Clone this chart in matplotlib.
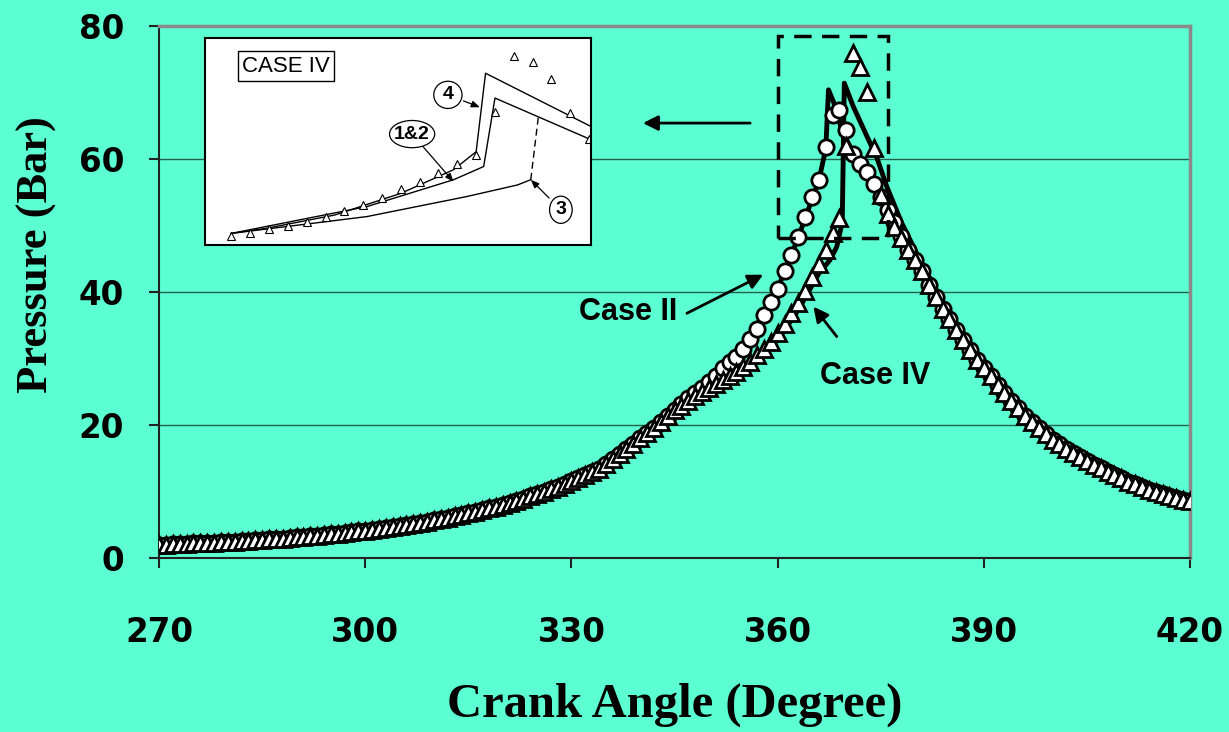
import matplotlib
matplotlib.use("Agg")
import matplotlib.pyplot as plt
from matplotlib.patches import Rectangle, Ellipse

BG = "#5cffd2"

# crank angle of the sampled points (one per degree)
crank = list(range(270, 421))

# shared compression part, 270..345 deg
compression = [2.0, 2.03, 2.07, 2.11, 2.15, 2.19, 2.23, 2.28, 2.33, 2.38,
               2.43, 2.48, 2.54, 2.60, 2.66, 2.72, 2.79, 2.86, 2.93, 3.01,
               3.09, 3.17, 3.26, 3.35, 3.45, 3.55, 3.65, 3.76, 3.87, 3.99,
               4.11, 4.24, 4.37, 4.51, 4.65, 4.80, 4.96, 5.12, 5.29, 5.47,
               5.66, 5.85, 6.05, 6.26, 6.48, 6.71, 6.95, 7.20, 7.46, 7.73,
               8.00, 8.30, 8.60, 8.92, 9.25, 9.60, 9.96, 10.33, 10.72, 11.12,
               11.54, 11.98, 12.44, 12.92, 13.42, 14.2, 14.9, 15.6, 16.4, 17.2,
               18.0, 18.8, 19.6, 20.4, 21.3, 22.2]

# shared expansion part, 379..420 deg
expansion = [46.3, 44.8, 43.1, 41.1, 39.3, 37.5, 36.0, 34.3, 32.8, 31.3,
             29.8, 28.5, 27.3, 26.0, 24.8, 23.6, 22.5, 21.4, 20.4, 19.5,
             18.6, 17.8, 17.1, 16.4, 15.8, 15.2, 14.6, 14.0, 13.5, 13.0,
             12.5, 12.0, 11.5, 11.1, 10.7, 10.3, 10.0, 9.6, 9.3, 9.0,
             8.7, 8.5]

# Case II measured, 346..378 deg
case2_mid = [23.1, 24.0, 24.8, 25.6, 26.5, 27.4, 28.5, 29.4, 30.3, 31.5,
             33.0, 34.5, 36.5, 38.5, 40.5, 43.1, 45.6, 48.2, 51.3, 54.3,
             56.8, 61.8, 66.6, 67.4, 64.4, 60.7, 59.3, 58.1, 56.3, 54.3,
             52.4, 50.5, 48.4]

# Case IV measured, 346..378 deg
case4_mid = [22.9, 23.6, 24.3, 25.0, 25.6, 26.2, 26.8, 27.4, 28.0, 28.7,
             29.5, 30.5, 31.5, 32.5, 33.8, 35.2, 36.8, 38.4, 40.2, 42.2,
             44.2, 46.3, 48.9, 51.1, 61.9, 75.9, 73.9, 70.1, 61.6, 54.6,
             51.8, 49.8, 48.1]

case2_p = compression + case2_mid + expansion
case4_p = compression + case4_mid + expansion

# simulated pressure traces
sim2_angle = [270, 280, 290, 300, 310, 320, 330, 340, 345, 350, 355, 360,
              363, 366, 367.0, 367.4, 368.4, 369.3, 371, 372, 374, 376,
              378, 380, 385, 390, 395, 400, 405, 410, 415, 420]
sim2_p = [2.0, 2.43, 3.09, 4.11, 5.66, 8.0, 11.54, 18.0, 22.2, 26.5, 31.5,
          40.5, 48.2, 56.8, 61.5, 70.4, 67.9, 64.4, 60.9, 59.2, 56.0, 52.0,
          48.3, 44.9, 36.2, 28.6, 22.6, 17.9, 14.7, 12.1, 10.0, 8.5]

sim4_angle = [270, 280, 290, 300, 310, 320, 330, 340, 345, 350, 355, 360,
              363, 366, 367.6, 368.6, 369.4, 369.7, 371, 373, 374.4, 375.9,
              378, 380.7, 385, 390, 395, 400, 405, 410, 415, 420]
sim4_p = [2.0, 2.43, 3.09, 4.11, 5.66, 8.0, 11.54, 18.0, 22.2, 25.3, 28.2,
          32.8, 37.3, 42.8, 44.8, 46.8, 50.5, 71.4, 67.9, 63.4, 60.3, 55.8,
          50.5, 44.8, 36.6, 28.9, 22.8, 18.0, 14.7, 12.1, 10.0, 8.5]

# detail view: case IV measurements and model variants
detail_angle = list(range(356, 376))
detail_p = [30.9, 31.5, 32.5, 33.4, 34.3, 35.5, 37.2, 38.6, 40.4, 42.5,
            44.4, 46.7, 48.9, 51.1, 61.9, 75.9, 74.3, 70.0, 61.5, 55.0]
model4_angle = [356.0, 357.9, 361.5, 365.0, 367.8, 369.0, 369.5, 375.1]
model4_p = [31.5, 32.8, 36.1, 41.5, 47.4, 51.9, 71.5, 58.2]
model12_angle = [356.0, 363.2, 367.8, 369.4, 370.0, 375.1]
model12_p = [31.5, 38.2, 44.9, 48.2, 65.3, 54.9]
model3_angle = [356.0, 363.2, 368.5, 371.2, 371.9]
model3_p = [31.5, 35.7, 40.7, 43.6, 44.9]
model3_jump_angle = [371.9, 372.3]
model3_jump_p = [44.9, 60.5]

x_ticks = [270, 300, 330, 360, 390, 420]
y_ticks = [0, 20, 40, 60, 80]

fig = plt.figure(figsize=(12.29, 7.32), dpi=100, facecolor=BG)
ax = fig.add_axes([0.1294, 0.2377, 0.8389, 0.7268], facecolor=BG)

ax.plot(sim2_angle, sim2_p, color="black", lw=3.5, zorder=3)
ax.plot(sim4_angle, sim4_p, color="black", lw=3.5, zorder=3)
ax.plot(crank, case2_p, ls="none", marker="o", ms=11, mfc="white",
        mec="black", mew=2, zorder=4)
ax.plot(crank, case4_p, ls="none", marker="^", ms=11, mfc="white",
        mec="black", mew=2, zorder=5)

ax.set_xlim(270, 420)
ax.set_ylim(0, 80)
ax.set_xticks(x_ticks)
ax.set_yticks(y_ticks)
ax.yaxis.grid(True, color="#24604f", lw=1)
ax.set_axisbelow(True)
ax.tick_params(direction="out", length=7, width=1.5, color="#222222")
ax.tick_params(axis="x", pad=35)
ax.tick_params(axis="y", pad=18)
for lab in ax.get_xticklabels() + ax.get_yticklabels():
    lab.set_fontfamily("DejaVu Sans")
    lab.set_fontweight("bold")
    lab.set_fontsize(23.5)
for side in ("left", "bottom"):
    ax.spines[side].set_color("#222222")
    ax.spines[side].set_linewidth(1.5)
for side in ("top", "right"):
    ax.spines[side].set_color("#8a8a8a")
    ax.spines[side].set_linewidth(2.5)

fig.text(675 / 1229, 1 - 705 / 732, "Crank Angle (Degree)", ha="center",
         va="center", family="Liberation Serif", weight="bold", fontsize=35)
fig.text(37 / 1229, 1 - 255 / 732, "Pressure (Bar)", ha="center",
         va="center", rotation=90, family="Liberation Serif", weight="bold",
         fontsize=32)

# zoom box around the peak and pointer to the detail view
ax.add_patch(Rectangle((360.1, 48.1), 16.0, 30.4, fill=False, ec="black",
                       lw=2.5, ls=(0, (5, 3)), zorder=6))
arrow = dict(arrowstyle="-|>,head_length=0.9,head_width=0.45", color="black",
             lw=2, shrinkA=0, shrinkB=0)
ax.annotate("", xy=(340.4, 65.4), xytext=(356.0, 65.4), arrowprops=arrow)

ax.annotate("", xy=(357.9, 42.6), xytext=(346.8, 36.8), arrowprops=arrow,
            zorder=7)
ax.text(338.2, 37.0, "Case II", ha="center", va="center",
        family="Liberation Sans", weight="bold", fontsize=22, zorder=7)
ax.annotate("", xy=(365.2, 37.8), xytext=(368.6, 33.3), arrowprops=arrow,
            zorder=7)
ax.text(374.2, 27.4, "Case IV", ha="center", va="center",
        family="Liberation Sans", weight="bold", fontsize=22, zorder=7)

# detail view
ins = fig.add_axes([205 / 1229, 1 - 245 / 732, 386 / 1229, 207 / 732],
                   facecolor="white")
ins.set_xlim(354.6, 375.1)
ins.set_ylim(28.6, 80.3)
ins.set_xticks([])
ins.set_yticks([])
for s in ins.spines.values():
    s.set_color("black")
    s.set_linewidth(1.5)
ins.plot(model4_angle, model4_p, color="black", lw=1)
ins.plot(model12_angle, model12_p, color="black", lw=1)
ins.plot(model3_angle, model3_p, color="black", lw=1)
ins.plot(model3_jump_angle, model3_jump_p, color="black", lw=1,
         ls=(0, (5, 3)))
ins.plot(detail_angle, detail_p, ls="none", marker="^", ms=5.5,
         mfc="white", mec="black", mew=0.8)
ins.text(0.21, 0.863, "CASE IV", transform=ins.transAxes, ha="center",
         va="center", family="Liberation Sans", fontsize=16,
         bbox=dict(boxstyle="square,pad=0.2", fc="white", ec="black", lw=1))

small = dict(arrowstyle="-|>,head_length=0.5,head_width=0.2", color="black",
             lw=0.9, shrinkA=0, shrinkB=0)
for label, pos, tip, w in [("4", (367.5, 66.1), (369.2, 63.0), 1.5),
                           ("1&2", (365.6, 56.3), (367.8, 44.4), 2.4),
                           ("3", (373.5, 37.4), (371.9, 44.9), 1.2)]:
    ins.add_patch(Ellipse(pos, w, 6.8, fc="white", ec="black", lw=0.9,
                          zorder=4))
    ins.text(pos[0], pos[1], label, ha="center", va="center",
             family="Liberation Sans", weight="bold", fontsize=14, zorder=5)
    ins.annotate("", xy=tip, xytext=pos, arrowprops=dict(small, shrinkA=12))

fig.savefig("out.png", dpi=100, facecolor=BG)
